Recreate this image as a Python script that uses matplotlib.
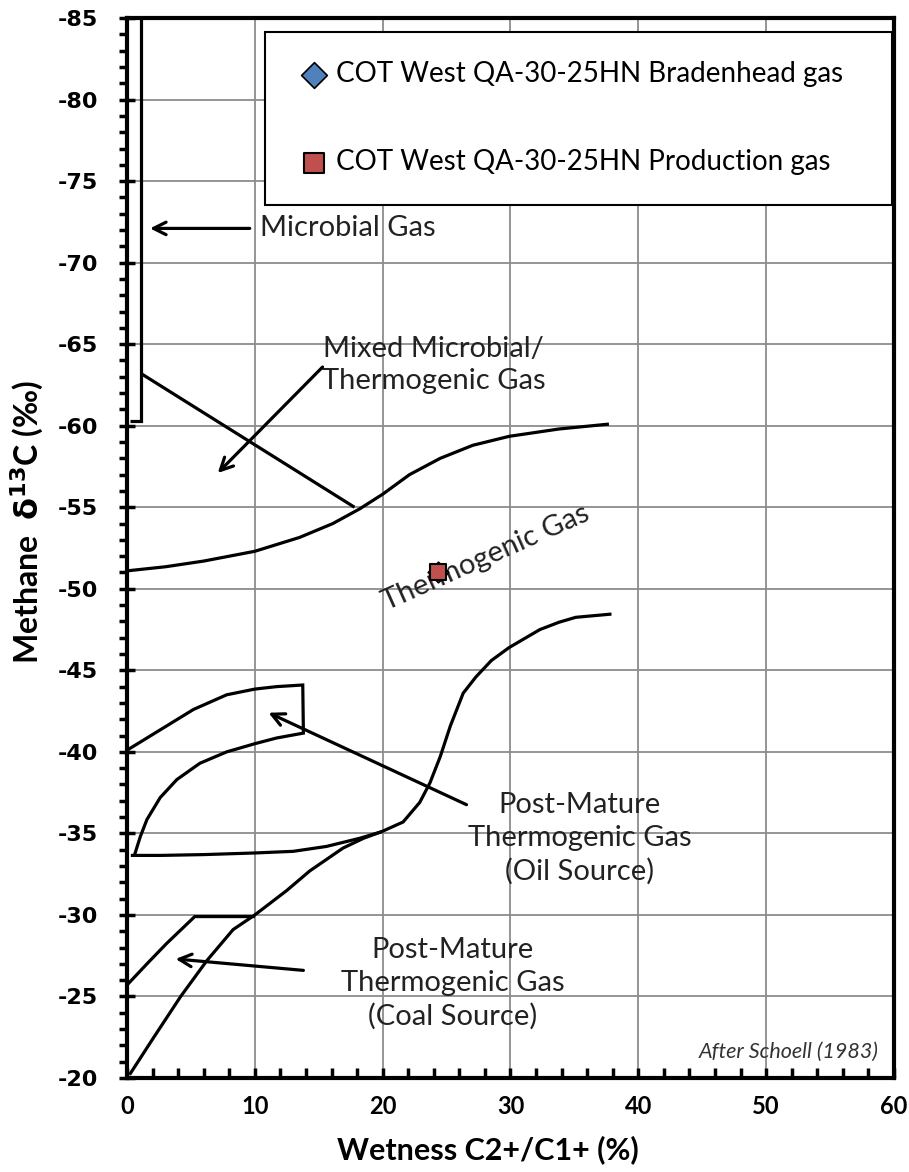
import matplotlib
matplotlib.use("Agg")
import matplotlib.pyplot as plt
from matplotlib.ticker import MultipleLocator

plt.rcParams["axes.unicode_minus"] = False

# boundary lines of the Schoell (1983) diagram
microbial_x = [1.1, 1.1, 0.2]
microbial_y = [-85, -60.3, -60.3]

mixed_x = [1.1, 17.8]
mixed_y = [-63.2, -55.0]

thermo_upper_x = [0, 3, 6, 10, 13.5, 16.1, 18.2, 20.0, 22.1, 24.5, 27.05, 29.9, 33.8, 37.7]
thermo_upper_y = [-51.1, -51.35, -51.7, -52.3, -53.15, -54.0, -54.9, -55.8, -57.0, -58.0, -58.8,
                  -59.35, -59.8, -60.1]

s_curve_x = [0.3, 2.6, 6, 10, 13, 15.6, 18.2, 19.9, 21.6, 22.9, 23.7, 24.5, 25.3, 26.3, 27.3,
             28.5, 29.9, 32.3, 33.8, 35.1, 37.9]
s_curve_y = [-33.65, -33.65, -33.7, -33.8, -33.9, -34.2, -34.7, -35.1, -35.7, -36.9, -38.1, -39.7,
             -41.6, -43.6, -44.6, -45.6, -46.4, -47.5, -47.95, -48.25, -48.45]

oil_x = [0, 2.6, 5.2, 7.8, 10, 11.7, 13.75, 13.8, 11.7, 10, 7.8, 5.7, 3.9, 2.6, 1.56, 1.04, 0.6]
oil_y = [-40.1, -41.35, -42.6, -43.5, -43.85, -44.0, -44.1, -41.15, -40.85, -40.5, -40.0, -39.3,
         -38.3, -37.2, -35.85, -34.8, -33.7]

coal_upper_x = [0, 1.56, 3.1, 5.3, 10]
coal_upper_y = [-25.7, -27.0, -28.25, -29.9, -29.9]

coal_x = [0.2, 2.1, 4.2, 6.25, 8.3, 10, 12.5, 14.3, 15.6, 16.9, 18.5, 19.9]
coal_y = [-20.2, -22.5, -25.0, -27.2, -29.1, -30, -31.5, -32.7, -33.4, -34.1, -34.7, -35.1]

# samples
bradenhead_x = [24.3]
bradenhead_y = [-51.0]
production_x = [24.3]
production_y = [-51.0]

fig = plt.figure(figsize=(9.09, 11.72), dpi=100)
ax = fig.add_axes([0.1397, 0.0802, 0.8438, 0.9044])

lw = 2.3
for xs, ys in [(microbial_x, microbial_y), (mixed_x, mixed_y), (thermo_upper_x, thermo_upper_y),
               (s_curve_x, s_curve_y), (oil_x, oil_y), (coal_upper_x, coal_upper_y), (coal_x, coal_y)]:
    ax.plot(xs, ys, color="black", lw=lw, zorder=3, solid_joinstyle="miter", solid_capstyle="butt")

ax.scatter(bradenhead_x, bradenhead_y, marker="D", s=110, color="#4F81BD", edgecolor="black",
           lw=1.2, zorder=4, label="COT West QA-30-25HN Bradenhead gas")
ax.scatter(production_x, production_y, marker="s", s=140, color="#C0504D", edgecolor="black",
           lw=1.5, zorder=5, label="COT West QA-30-25HN Production gas")

ax.set_xlim(0, 60)
ax.set_ylim(-20, -85)
ax.xaxis.set_major_locator(MultipleLocator(10))
ax.xaxis.set_minor_locator(MultipleLocator(2))
ax.yaxis.set_major_locator(MultipleLocator(5))
ax.yaxis.set_minor_locator(MultipleLocator(1))
ax.grid(True, which="major", color="#8c8c8c", lw=1.3, zorder=0)
ax.set_axisbelow(True)

for s in ax.spines.values():
    s.set_linewidth(3)
ax.tick_params(axis="y", which="major", direction="inout", length=12, width=2.5, pad=15)
ax.tick_params(axis="y", which="minor", direction="out", length=6, width=2.5)
ax.tick_params(axis="x", which="both", direction="in", length=7, width=2.5, pad=12)
for lab in ax.get_yticklabels():
    lab.set_fontfamily("DejaVu Sans")
    lab.set_fontweight("bold")
    lab.set_fontsize(16)
for lab in ax.get_xticklabels():
    lab.set_fontfamily("Lato")
    lab.set_fontweight("bold")
    lab.set_fontsize(17)

ax.set_xlabel("Wetness C2+/C1+ (%)", fontsize=22, fontweight="bold", family="Lato")
ax.xaxis.set_label_coords(0.47, -0.054)
ax.set_ylabel(r"Methane  $\mathbf{\delta^{13}}$C (‰)", fontsize=23, fontweight="bold", family="Lato")
ax.yaxis.set_label_coords(-0.106, 0.5245)

leg = ax.legend(loc="upper left", bbox_to_anchor=(0.18, 0.987, 0.818, 0.0), mode="expand",
                prop={"family": "Lato", "size": 20}, frameon=True, fancybox=False,
                edgecolor="black", framealpha=1, borderpad=1.05, labelspacing=2.25,
                handletextpad=0.1, handlelength=1.4, borderaxespad=0, markerscale=1.25)
leg.get_frame().set_linewidth(1.5)
leg.set_zorder(10)

txt = dict(fontsize=21, family="Lato", color="#222222")
arr = dict(arrowstyle="->,head_length=0.9,head_width=0.45", color="black", lw=2.3, shrinkA=0, shrinkB=0)

ax.annotate("", xy=(1.8, -72.1), xytext=(9.6, -72.1), arrowprops=arr, zorder=6)
ax.text(10.4, -72.1, "Microbial Gas", ha="left", va="center", **txt)

ax.annotate("", xy=(7.1, -57.1), xytext=(15.3, -63.6), arrowprops=arr, zorder=6)
ax.text(24, -63.7, "Mixed Microbial/\nThermogenic Gas", ha="center", va="center", linespacing=1.28, **txt)

ax.text(28.1, -51.9, "Thermogenic Gas", ha="center", va="center", rotation=24, **txt)

ax.annotate("", xy=(11.07, -42.4), xytext=(26.56, -36.76), arrowprops=arr, zorder=6)
ax.text(35.4, -34.7, "Post-Mature\nThermogenic Gas\n(Oil Source)", ha="center", va="center",
        linespacing=1.33, **txt)

ax.annotate("", xy=(3.8, -27.3), xytext=(13.8, -26.6), arrowprops=arr, zorder=6)
ax.text(25.5, -25.8, "Post-Mature\nThermogenic Gas\n(Coal Source)", ha="center", va="center",
        linespacing=1.33, **txt)

ax.text(58.8, -21.6, "After Schoell (1983)", ha="right", va="center", fontsize=15.5, style="italic",
        family="Lato", color="#333333")

fig.savefig("out.png", dpi=100)
